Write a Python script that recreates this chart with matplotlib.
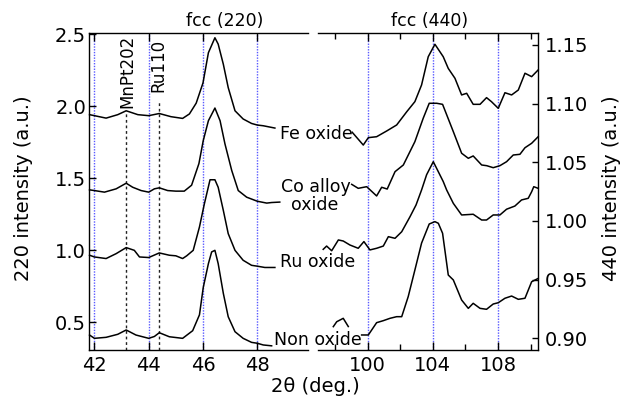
import numpy as np
import matplotlib
matplotlib.use("Agg")
import matplotlib.pyplot as plt

plt.rcParams['font.family'] = ['DejaVu Sans']

# ---------------- data: fcc (220) region ----------------
fe220_x = [41.82, 42.0, 42.43, 42.86, 43.17, 43.6, 44.0, 44.39, 44.82, 45.25, 45.5, 45.75, 46.0, 46.2,
           46.44, 46.56, 46.75, 46.93, 47.18, 47.48, 47.79, 48.0, 48.22, 48.65]
fe220_y = [1.94, 1.933, 1.916, 1.94, 1.967, 1.94, 1.933, 1.948, 1.926, 1.914, 1.945, 2.02, 2.16, 2.37,
           2.474, 2.43, 2.29, 2.128, 1.967, 1.91, 1.879, 1.868, 1.863, 1.847]

co220_x = [41.82, 42.0, 42.37, 42.8, 43.17, 43.41, 43.72, 44.0, 44.21, 44.39, 44.7, 45.0, 45.31, 45.58,
           45.85, 46.01, 46.2, 46.44, 46.63, 46.81, 47.06, 47.3, 47.61, 48.0, 48.35, 48.53, 48.83]
co220_y = [1.418, 1.413, 1.402, 1.425, 1.464, 1.436, 1.413, 1.402, 1.425, 1.432, 1.413, 1.409, 1.409, 1.45,
           1.6, 1.76, 1.898, 1.986, 1.898, 1.737, 1.552, 1.413, 1.367, 1.339, 1.326, 1.33, 1.333]

ru220_x = [41.82, 42.0, 42.43, 42.8, 43.17, 43.47, 43.66, 44.0, 44.39, 44.76, 45.0, 45.25, 45.4, 45.64,
           45.87, 46.05, 46.26, 46.44, 46.56, 46.75, 46.93, 47.18, 47.48, 47.79, 48.0, 48.28, 48.65]
ru220_y = [0.964, 0.952, 0.941, 0.975, 1.017, 0.998, 0.952, 0.948, 0.98, 0.964, 0.96, 0.941, 0.96, 0.998,
           1.16, 1.32, 1.488, 1.488, 1.436, 1.275, 1.114, 0.998, 0.929, 0.894, 0.888, 0.879, 0.879]

non220_x = [41.82, 42.0, 42.43, 42.86, 43.17, 43.53, 44.0, 44.21, 44.39, 44.76, 45.25, 45.62, 45.87, 46.01,
            46.2, 46.32, 46.44, 46.56, 46.75, 46.93, 47.18, 47.48, 47.79, 48.0, 48.22, 48.53]
non220_y = [0.41, 0.387, 0.394, 0.415, 0.445, 0.41, 0.387, 0.40, 0.426, 0.398, 0.387, 0.44, 0.55, 0.74,
            0.906, 0.987, 0.998, 0.906, 0.699, 0.537, 0.433, 0.387, 0.359, 0.353, 0.341, 0.335]

# ---------------- data: fcc (440) region ----------------
fe440_x = [99.05, 99.73, 100.04, 100.55, 101.17, 101.78, 102.4, 102.9, 103.31, 103.72, 104.13, 104.64,
           104.95, 105.36, 105.77, 106.08, 106.48, 106.9, 107.3, 107.6, 108.02, 108.43, 108.84, 109.25,
           109.66, 110.07, 110.47]
fe440_y = [1.0756, 1.0647, 1.071, 1.0718, 1.0767, 1.0818, 1.0931, 1.1017, 1.1159, 1.14, 1.1506, 1.14,
           1.13, 1.1216, 1.1074, 1.1088, 1.0994, 1.0994, 1.1051, 1.1017, 1.096, 1.1093, 1.1074, 1.1116,
           1.1259, 1.123, 1.1287]

co440_x = [99.02, 99.42, 99.94, 100.55, 100.86, 101.2, 101.68, 102.19, 102.9, 103.41, 103.78, 104.24,
           104.6, 105.26, 105.77, 106.18, 106.48, 107.0, 107.31, 107.71, 108.12, 108.53, 108.94, 109.35,
           109.66, 110.07, 110.47]
co440_y = [1.0312, 1.0278, 1.0292, 1.0213, 1.0287, 1.0272, 1.042, 1.0477, 1.0676, 1.0875, 1.1003, 1.1003,
           1.0994, 1.0761, 1.0577, 1.0534, 1.0554, 1.0477, 1.0471, 1.0454, 1.0471, 1.0505, 1.0562, 1.0568,
           1.0624, 1.0662, 1.0718]

ru440_x = [97.27, 97.48, 97.79, 98.2, 98.5, 98.91, 99.42, 99.77, 100.14, 100.55, 100.96, 101.27, 101.68,
           102.09, 102.6, 102.97, 103.31, 103.62, 104.03, 104.64, 104.85, 105.26, 105.77, 106.48, 107.0,
           107.3, 107.71, 108.12, 108.53, 109.04, 109.45, 109.86, 110.07, 110.2, 110.47]
ru440_y = [0.9758, 0.9786, 0.9746, 0.9838, 0.9829, 0.9795, 0.9767, 0.9824, 0.9753, 0.9767, 0.9786, 0.9866,
           0.9852, 0.9908, 1.0036, 1.0136, 1.0264, 1.0394, 1.0505, 1.0336, 1.0264, 1.015, 1.0051, 1.0057,
           1.0008, 1.0008, 1.0051, 1.0051, 1.01, 1.0127, 1.0179, 1.0193, 1.0249, 1.0292, 1.0278]

non440_x = [97.89, 98.1, 98.5, 98.81, np.nan, 99.63, 100.04, 100.55, 100.96, 101.37, 101.78, 102.09, 102.49,
            102.9, 103.31, 103.78, 104.13, 104.34, 104.6, 104.95, 105.26, 105.77, 106.18, 106.48, 106.9,
            107.3, 107.71, 108.02, 108.43, 108.84, 109.25, 109.66, 110.07, 110.47]
non440_y = [0.9099, 0.9141, 0.917, 0.91, np.nan, 0.9028, 0.9028, 0.9133, 0.915, 0.917, 0.9184, 0.9184, 0.9355,
            0.9582, 0.9811, 0.9974, 0.9994, 0.998, 0.9895, 0.9539, 0.9497, 0.9326, 0.9255, 0.9298, 0.9255,
            0.9247, 0.9292, 0.9303, 0.9341, 0.936, 0.9332, 0.9341, 0.9482, 0.951]

left_xticks = [42, 44, 46, 48]
left_yticks = [0.5, 1.0, 1.5, 2.0, 2.5]
right_xticks = [100, 104, 108]
right_xminor = [98, 102, 106, 110]
right_yticks = [0.90, 0.95, 1.00, 1.05, 1.10, 1.15]
ref_lines = [43.17, 44.39]      # MnPt202, Ru110
ref_tops = [1.967, 2.03]
ref_labels = ["MnPt202", "Ru110"]

# ---------------- figure ----------------
W, H = 635, 401
fig = plt.figure(figsize=(W / 100, H / 100), dpi=100)

def fx(px):
    return px / W

def fy(py):
    return 1 - py / H

ax1 = fig.add_axes([fx(89), fy(350), fx(308) - fx(89), fy(33) - fy(350)])
ax2 = fig.add_axes([fx(318), fy(350), fx(538) - fx(318), fy(33) - fy(350)])

ax1.set_xlim(41.8, 49.87)
ax1.set_ylim(0.306, 2.507)
ax2.set_xlim(96.95, 110.46)
ax2.set_ylim(0.890, 1.1602)

blue = (0.35, 0.35, 1.0)
lw = 1.1
for xv in left_xticks:
    ax1.axvline(xv, color=blue, ls=(0, (1, 1)), lw=1.0, zorder=1)
for xv in right_xticks:
    ax2.axvline(xv, color=blue, ls=(0, (1, 1)), lw=1.0, zorder=1)

for xv, top in zip(ref_lines, ref_tops):
    ax1.plot([xv, xv], [0.306, top], color='#222222', ls=(0, (2, 2)), lw=1.0, zorder=2)

for x, y in [(fe220_x, fe220_y), (co220_x, co220_y), (ru220_x, ru220_y), (non220_x, non220_y)]:
    ax1.plot(x, y, color='black', lw=lw, zorder=3, clip_on=False)
for x, y in [(fe440_x, fe440_y), (co440_x, co440_y), (ru440_x, ru440_y), (non440_x, non440_y)]:
    ax2.plot(x, y, color='black', lw=lw, zorder=3, clip_on=False)

# spines & ticks
ax1.spines['right'].set_visible(False)
ax2.spines['left'].set_visible(False)
for ax in (ax1, ax2):
    for s in ax.spines.values():
        s.set_linewidth(1.0)

ax1.set_xticks(left_xticks)
ax1.set_yticks(left_yticks)
ax1.set_yticklabels([f"{v:.1f}" for v in left_yticks])
ax1.tick_params(axis='x', which='major', direction='in', top=True, bottom=True, length=6, width=1,
                labelsize=14, pad=4)
ax1.tick_params(axis='y', which='major', direction='in', left=True, right=False, length=5, width=1,
                labelsize=14, pad=2)

ax2.set_xticks(right_xticks)
ax2.set_xticks(right_xminor, minor=True)
ax2.set_yticks(right_yticks)
ax2.set_yticklabels([f"{v:.2f}" for v in right_yticks])
ax2.yaxis.tick_right()
ax2.tick_params(axis='x', which='major', direction='in', top=True, bottom=True, length=6, width=1,
                labelsize=14, pad=4)
ax2.tick_params(axis='x', which='minor', direction='in', top=True, bottom=True, length=4, width=1)
ax2.tick_params(axis='y', which='major', direction='in', left=False, right=True, length=4, width=1,
                labelsize=14, pad=5)

# reference peak labels
ax1.text(43.22, 2.244, ref_labels[0], rotation=90, ha='center', va='center', fontsize=12)
ax1.text(44.36, 2.28, ref_labels[1], rotation=90, ha='center', va='center', fontsize=12)

# titles / axis labels
fig.text(fx(225), fy(21), "fcc (220)", ha='center', va='center', fontsize=12.5)
fig.text(fx(430), fy(21), "fcc (440)", ha='center', va='center', fontsize=12.5)
fig.text(fx(315), fy(386), "2θ (deg.)", ha='center', va='center', fontsize=14)
fig.text(fx(23.5), fy(188.5), "220 intensity (a.u.)", rotation=90, ha='center', va='center', fontsize=14)
fig.text(fx(611.7), fy(188.5), "440 intensity (a.u.)", rotation=90, ha='center', va='center', fontsize=14)

# curve labels
fig.text(fx(316), fy(139.3), "Fe oxide", ha='center', va='baseline', fontsize=12.5)
fig.text(fx(315.5), fy(191.7), "Co alloy", ha='center', va='baseline', fontsize=12.5)
fig.text(fx(315), fy(210.5), "oxide", ha='center', va='baseline', fontsize=12.5)
fig.text(fx(318), fy(266.7), "Ru oxide", ha='center', va='baseline', fontsize=12.5)
fig.text(fx(317.5), fy(345), "Non oxide", ha='center', va='baseline', fontsize=12.5)

fig.savefig("out.png", dpi=100)
